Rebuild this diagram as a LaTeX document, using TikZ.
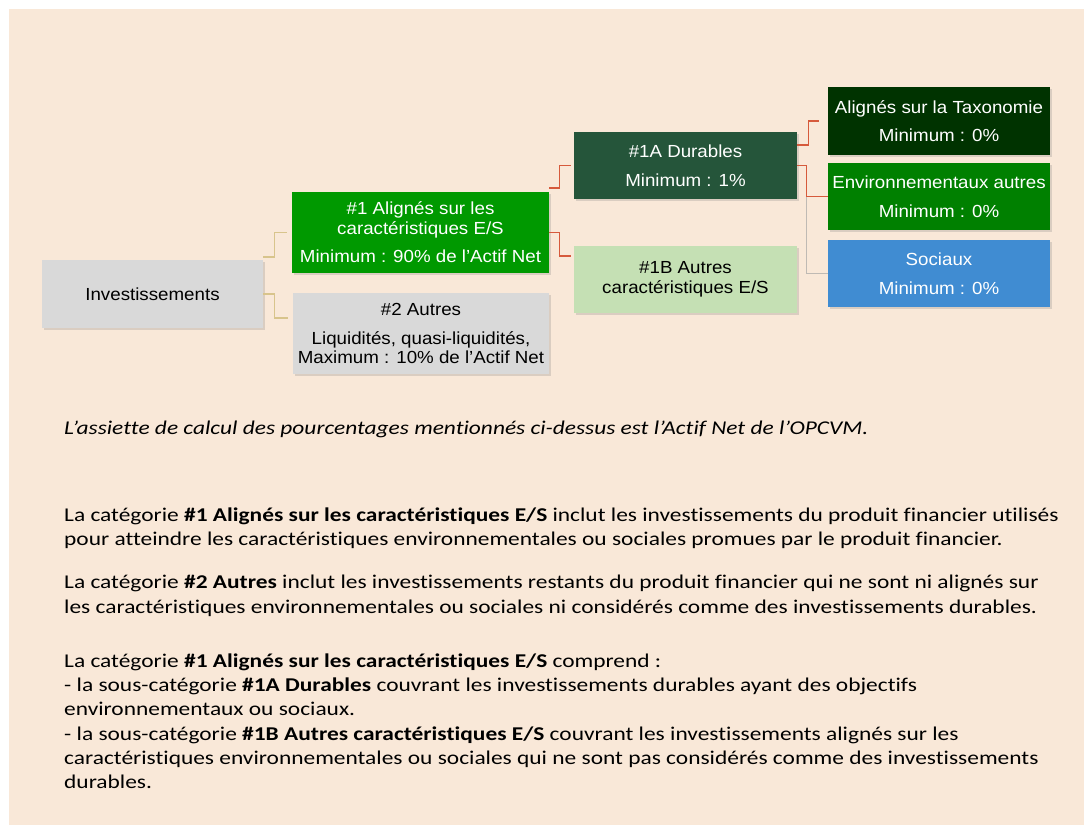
\documentclass[tikz,border=0pt]{standalone}
\usepackage{fontspec}
\setmainfont{Carlito}[FakeStretch=1.2, Ligatures=NoCommon]
\newfontfamily\diagfont{Liberation Sans}[FakeStretch=1.07]
\usetikzlibrary{shadows}
\definecolor{bgbeige}{RGB}{249,232,216}
\definecolor{boxgray}{RGB}{217,217,217}
\definecolor{greenA}{RGB}{0,153,0}
\definecolor{greenDur}{RGB}{37,85,58}
\definecolor{greenTax}{RGB}{0,51,0}
\definecolor{greenEnv}{RGB}{0,128,0}
\definecolor{blueSoc}{RGB}{64,140,210}
\definecolor{greenLight}{RGB}{197,224,180}
\definecolor{tanline}{RGB}{216,196,140}
\definecolor{redline}{RGB}{214,90,60}
\definecolor{greyline}{RGB}{191,186,180}
\begin{document}
\begin{tikzpicture}[x=1pt,y=-1pt,
  box/.style={draw=none, align=center, inner sep=0pt,
    font=\diagfont\fontsize{17.5}{19.5}\selectfont,
    drop shadow={opacity=0.25, shadow xshift=1.5pt, shadow yshift=-1.5pt}},
  lightbox/.style={box, fill=#1, text=black},
  darkbox/.style={box, fill=#1, text=white},
  tanconn/.style={draw=tanline, line width=1.4pt},
  redconn/.style={draw=redline, line width=1.4pt},
  greyconn/.style={draw=greyline, line width=1.4pt},
  bodyline/.style={anchor=base west, inner sep=0pt, font=\fontsize{19.5}{24}\selectfont}]
\useasboundingbox (0,0) rectangle (1088,825);
\fill[white] (-5,-5) rectangle (1093,830);
\fill[bgbeige] (9,9) rectangle (1084,830);

% boxes
\node[lightbox=boxgray, minimum width=221pt, minimum height=68pt] (inv) at (152.5,294) {Investissements};
\node[darkbox=greenA, minimum width=257pt, minimum height=81pt] (a1) at (420.5,232.5)
  {\#1 Alignés sur les\\caractéristiques E/S\\[9pt]Minimum : 90\% de l’Actif Net};
\node[lightbox=boxgray, minimum width=256pt, minimum height=81pt] (a2) at (421,333.5)
  {\#2 Autres\\[9pt]Liquidités, quasi-liquidités,\\Maximum : 10\% de l’Actif Net};
\node[darkbox=greenDur, minimum width=223pt, minimum height=67pt] (d1a) at (685.5,165.5)
  {\#1A Durables\\[9pt]Minimum : 1\%};
\node[lightbox=greenLight, minimum width=223pt, minimum height=67pt] (d1b) at (685.5,279.5)
  {\#1B Autres\\caractéristiques E/S};
\node[darkbox=greenTax, minimum width=222pt, minimum height=68pt] (tax) at (939,121)
  {Alignés sur la Taxonomie\\[9pt]Minimum : 0\%};
\node[darkbox=greenEnv, minimum width=222pt, minimum height=67pt] (env) at (939,196.5)
  {Environnementaux autres\\[9pt]Minimum : 0\%};
\node[darkbox=blueSoc, minimum width=222pt, minimum height=67pt] (soc) at (939,273.5)
  {Sociaux\\[9pt]Minimum : 0\%};

% connectors
\draw[tanconn] ([yshift=3pt]inv.north east) -- ++(11,0) |- ([xshift=-5pt]a1.west);
\draw[tanconn] (inv.east) -- ++(11,0) |- ([xshift=-5pt,yshift=15.5pt]a2.west);
\draw[redconn] ([yshift=4pt]a1.north east) -- ++(10,0) |- ([xshift=-3pt]d1a.west);
\draw[redconn] (a1.east) -- ++(10,0) |- ([xshift=-3pt,yshift=23.5pt]d1b.west);
\coordinate (j) at ([xshift=9pt]d1a.east);
\draw[greyconn] (j |- env.west) |- (soc.west);
\draw[redconn] ([yshift=20.5pt]d1a.east) -- ++(11,0) |- ([xshift=-9pt]tax.west);
\draw[redconn] (d1a.east) -- (j) |- (env.west);

% body text
\node[bodyline] (t1) at (64,434) {\itshape L’assiette de calcul des pourcentages mentionnés ci-dessus est l’Actif Net de l’OPCVM.};
\node[bodyline] (t2) at (64,521) {La catégorie \textbf{\#1 Alignés sur les caractéristiques E/S} inclut les investissements du produit financier utilisés};
\node[bodyline] (t3) at (64,545) {pour atteindre les caractéristiques environnementales ou sociales promues par le produit financier.};
\node[bodyline] (t4) at (64,588) {La catégorie \textbf{\#2 Autres} inclut les investissements restants du produit financier qui ne sont ni alignés sur};
\node[bodyline] (t5) at (64,613) {les caractéristiques environnementales ou sociales ni considérés comme des investissements durables.};
\node[bodyline] (t6) at (64,667) {La catégorie \textbf{\#1 Alignés sur les caractéristiques E/S} comprend :};
\node[bodyline] (t7) at (64,691) {- la sous-catégorie \textbf{\#1A Durables} couvrant les investissements durables ayant des objectifs};
\node[bodyline] (t8) at (64,715) {environnementaux ou sociaux.};
\node[bodyline] (t9) at (64,740) {- la sous-catégorie \textbf{\#1B Autres caractéristiques E/S} couvrant les investissements alignés sur les};
\node[bodyline] (t10) at (64,764) {caractéristiques environnementales ou sociales qui ne sont pas considérés comme des investissements};
\node[bodyline] (t11) at (64,788) {durables.};
\end{tikzpicture}
\end{document}
